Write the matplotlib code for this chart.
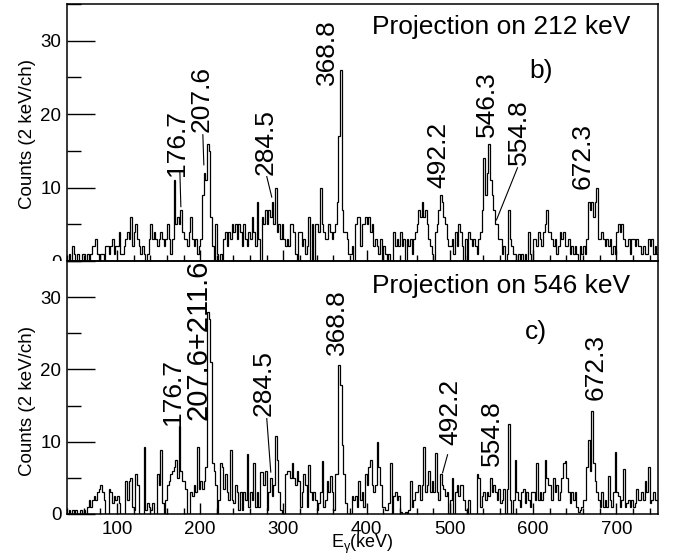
import numpy as np
import matplotlib
matplotlib.use("Agg")
import matplotlib.pyplot as plt
from matplotlib.patches import Rectangle
from matplotlib.ticker import MultipleLocator

plt.rcParams['font.family'] = ['Liberation Sans', 'DejaVu Sans']
plt.rcParams['mathtext.fontset'] = 'custom'
plt.rcParams['mathtext.rm'] = 'Liberation Sans'
plt.rcParams['mathtext.it'] = 'Liberation Sans'
plt.rcParams['mathtext.default'] = 'regular'

# ---------------- data ----------------
E_START = 40     # keV, first bin edge
BIN_W = 2        # keV per channel

counts_212 = (
    [0, 1, 0, 2, 1, 0, 1, 0, 0, 1] +          # 40
    [1, 0, 1, 0, 1, 2, 2, 3, 1, 0] +          # 60
    [1, 1, 0, 2, 2, 1, 2, 3, 1, 2] +          # 80
    [2, 4, 1, 1, 2, 3, 4, 3, 6, 2] +          # 100
    [4, 5, 3, 2, 1, 2, 1, 0, 1, 3] +          # 120
    [5, 3, 4, 3, 2, 3, 4, 3, 2, 3] +          # 140
    [5, 3, 1, 3, 11, 5, 6, 5, 7, 4] +         # 160
    [3, 3, 2, 4, 6, 3, 2, 3, 1, 2] +          # 180
    [3, 9, 12, 11, 16, 15, 6, 2, 0, 5] +      # 200
    [1, 0, 1, 0, 3, 4, 2, 4, 3, 5] +          # 220
    [4, 5, 3, 5, 4, 2, 5, 3, 2, 4] +          # 240
    [3, 6, 4, 2, 8, 3, 0, 6, 5, 7] +          # 260
    [5, 7, 6, 8, 5, 10, 4, 5, 3, 5] +         # 280
    [3, 2, 3, 2, 5, 5, 4, 1, 0, 4] +          # 300
    [4, 2, 3, 1, 2, 6, 0, 5, 0, 5] +          # 320
    [5, 4, 10, 5, 4, 3, 3, 5, 4, 3] +         # 340
    [4, 5, 8, 17, 26, 7, 4, 4, 3, 1] +        # 360
    [1, 2, 0, 5, 6, 6, 2, 5, 5, 6] +          # 380
    [5, 6, 4, 5, 2, 3, 2, 1, 3, 0] +          # 400
    [2, 1, 0, 1, 0, 0, 4, 2, 3, 2] +          # 420
    [4, 2, 3, 0, 3, 2, 3, 1, 3, 4] +          # 440
    [5, 7, 6, 8, 6, 7, 5, 3, 2, 1] +          # 460
    [0, 4, 5, 7, 9, 8, 6, 5, 3, 2] +          # 480
    [2, 3, 1, 4, 2, 5, 4, 2, 0, 3] +          # 500
    [0, 4, 3, 2, 3, 2, 1, 3, 4, 7] +          # 520
    [14, 9, 12, 16, 11, 9, 7, 5, 5, 3] +      # 540
    [3, 1, 2, 0, 1, 7, 3, 2, 1, 1] +          # 560
    [0, 1, 0, 1, 0, 1, 0, 4, 1, 0] +          # 580
    [3, 3, 2, 4, 3, 2, 4, 5, 7, 4] +          # 600
    [4, 3, 2, 3, 1, 2, 4, 3, 4, 2] +          # 620
    [2, 3, 1, 2, 1, 2, 1, 0, 2, 1] +          # 640
    [2, 1, 3, 8, 7, 8, 6, 8, 10, 3] +         # 660
    [3, 4, 3, 2, 3, 2, 3, 1, 2, 1] +          # 680
    [4, 5, 4, 5, 3, 2, 2, 3, 1, 3] +          # 700
    [3, 2, 3, 2, 2, 1, 2, 1, 1, 3] +          # 720
    [2, 3, 1, 2, 1]                           # 740
)

counts_546 = (
    [0, 0.5, 0, 0.5, 0, 0.5, 0, 0, 0.5, 0] +          # 40
    [0.5, 0, 1, 2, 1, 2, 2.5, 2, 3, 3.5] +            # 60
    [4, 3, 2, 0, 0, 3.5, 3, 1.5, 2.5, 2] +            # 80
    [2.5, 1.5, 0, 0, 0, 4.5, 2, 4.5, 5, 1] +          # 100
    [0.5, 5.5, 4, 0, 0, 0, 9.2, 0.5, 1.5, 1] +        # 120
    [0.5, 1.5, 0, 0, 5.5, 4, 8.8, 1.5, 0, 2] +        # 140
    [4, 4.5, 5.5, 6, 6.5, 7.5, 5, 12.2, 6, 4.5] +     # 160
    [4.5, 3.5, 0, 0, 3, 2.5, 4, 3, 9.3, 3.5] +        # 180
    [4.5, 3.5, 4.5, 6.5, 28, 27, 21, 7, 6, 4] +       # 200
    [0, 2, 7, 6.5, 3.5, 5.5, 3, 2, 8.8, 2] +          # 220
    [1.5, 4, 3, 0.5, 3, 0.5, 3, 2, 8.3, 1] +          # 240
    [3, 2, 7, 1, 3, 1, 5.8, 5.8, 4, 6] +              # 260
    [0.5, 3, 5, 2.5, 4, 10.8, 7.5, 3, 0.5, 0] +       # 280
    [0, 5.5, 6, 6, 5, 7, 5, 4, 6, 4.5] +              # 300
    [1, 3, 5.5, 4, 1, 6.8, 3, 2, 3, 2] +              # 320
    [0.5, 1.5, 3, 7.4, 1, 2, 4.5, 3, 5.2, 3] +        # 340
    [0.5, 5.5, 5.5, 20.6, 17.8, 9.5, 5.5, 1.5, 0, 0] +  # 360
    [0, 2.5, 2, 2.5, 1, 4.5, 2, 3, 1, 5.5] +          # 380
    [4, 6.5, 7.5, 4, 3, 4, 10, 6.5, 4, 1] +           # 400
    [1, 0.5, 0.5, 1.5, 7, 0, 2.5, 3, 2, 2.5] +        # 420
    [0.3, 0, 0, 0.3, 0, 0.5, 4.5, 1, 2, 3] +          # 440
    [3, 4, 2, 4, 9.2, 3, 4, 6, 3, 4.5] +              # 460
    [3, 8.5, 3, 2, 5.5, 4, 3.5, 2.5, 3, 0] +          # 480
    [2, 5, 0, 3, 4, 2.5, 4, 4, 2, 0.5] +              # 500
    [0, 2, 0, 0, 0, 0, 5.5, 5, 1, 2.5] +              # 520
    [3, 2, 3, 2.5, 5, 3, 4, 3, 2, 3.5] +              # 540
    [1.5, 2, 3.5, 0, 3.5, 12.5, 2, 0, 2, 7.5] +       # 560
    [3, 2, 1, 3, 3.5, 1.5, 3, 2, 1, 3] +              # 580
    [3, 2, 7, 2, 3, 2, 3, 7.5, 5, 4] +                # 600
    [4, 2, 5, 3, 4, 2, 3, 5, 7, 7.3] +                # 620
    [5, 3, 1.5, 3, 2, 3, 1, 0.3, 0.5, 1] +            # 640
    [2, 2, 6.5, 10.3, 6, 14.3, 7, 4.5, 3, 2] +        # 660
    [1, 3, 1, 2, 1, 5.2, 2, 1, 3, 8.6] +              # 680
    [3, 2.5, 1, 2, 6.2, 1, 1.5, 2, 1, 2] +            # 700
    [1, 1.5, 3.5, 2, 2, 3, 2, 4.5, 3, 6.5] +          # 720
    [1.5, 2, 3, 2, 2]                                 # 740
)

peak_labels_212 = ["176.7", "207.6", "284.5", "368.8", "492.2", "546.3", "554.8", "672.3"]
peak_labels_546 = ["176.7", "207.6+211.6", "284.5", "368.8", "492.2", "554.8", "672.3"]
x_tick_values = [100, 200, 300, 400, 500, 600, 700]
y_tick_values = [0, 10, 20, 30]

# ---------------- layout / style ----------------
# text anchor positions (keV, counts)
pos_212 = [(172, 16.1), (202, 22.1), (278.8, 16.2), (352, 28.5),
           (486.4, 14.5), (544, 21.4), (582.4, 17.6), (659.2, 14.3)]
leaders_212 = {0: ((175.6, 176.8), (12.1, 7.4)),
               1: ((203.2, 204.4), (17.2, 13.1)),
               2: ((280, 286), (11.5, 8.7)),
               6: ((581.2, 556), (12.7, 5.6))}
pos_546 = [(167.2, 16.9), (198.4, 13.0), (276.4, 18.1), (364, 26.5),
           (500.8, 14.1), (550, 11.2), (674.8, 20.4)]
leaders_546 = {2: ((280, 284.8), (13.2, 5.8)),
               4: ((497.2, 491.2), (8.2, 5.7))}

W, H = 678, 556
fig = plt.figure(figsize=(W / 100, H / 100), dpi=100)


def rect(l, t, r, b):
    return [l / W, 1 - b / H, (r - l) / W, (b - t) / H]


ax1 = fig.add_axes(rect(67, 4, 658, 261))
ax2 = fig.add_axes(rect(67, 261, 658, 514))
ax1.set_zorder(0)
ax2.set_zorder(2)
fig.add_artist(Rectangle((0, 0), 67 / W, 1 - 261 / H, transform=fig.transFigure,
                         facecolor='white', edgecolor='none', zorder=1))

edges = E_START + BIN_W * np.arange(len(counts_212) + 1)

for ax, counts in ((ax1, counts_212), (ax2, counts_546)):
    ax.stairs(counts, edges, color='black', linewidth=0.9, baseline=0)
    ax.set_xlim(40, 750)
    ax.set_ylim(0, 35)
    ax.set_xticks(x_tick_values)
    ax.xaxis.set_minor_locator(MultipleLocator(20))
    ax.set_yticks(y_tick_values)
    ax.yaxis.set_minor_locator(MultipleLocator(5))
    ax.tick_params(axis='y', which='major', direction='in', length=20, width=1,
                   labelsize=13.5, pad=4)
    ax.tick_params(axis='y', which='minor', direction='in', length=10, width=1)
    ax.tick_params(axis='x', which='major', direction='in', length=8, width=1,
                   labelsize=13.5, pad=5)
    ax.tick_params(axis='x', which='minor', direction='in', length=4, width=1)
    for s in ax.spines.values():
        s.set_linewidth(1.1)
    ax.set_facecolor('none')

ax1.tick_params(axis='x', labelbottom=False)

fs = 19
for i, (lab, (x, y)) in enumerate(zip(peak_labels_212, pos_212)):
    ax1.text(x, y, lab, rotation=90, ha='center', va='center', fontsize=fs)
for i, (xs, ys) in leaders_212.items():
    ax1.plot(xs, ys, color='black', linewidth=0.8)

for i, (lab, (x, y)) in enumerate(zip(peak_labels_546, pos_546)):
    if '+' in lab:
        ax2.text(x, y, lab, rotation=90, ha='center', va='bottom', fontsize=21,
                 clip_on=True)
    else:
        ax2.text(x, y, lab, rotation=90, ha='center', va='center', fontsize=fs)
for i, (xs, ys) in leaders_546.items():
    ax2.plot(xs, ys, color='black', linewidth=0.8)

ax1.text(407, 31.9, "Projection on 212 keV", ha='left', va='center', fontsize=fs)
ax1.text(610, 25.9, "b)", ha='center', va='center', fontsize=fs)
ax2.text(407, 31.6, "Projection on 546 keV", ha='left', va='center', fontsize=fs)
ax2.text(602.8, 25.2, "c)", ha='center', va='center', fontsize=fs)

fig.text(28 / W, 1 - 134 / H, "Counts (2 keV/ch)", rotation=90, ha='center',
         va='center', fontsize=13.5)
fig.text(28 / W, 1 - 401 / H, "Counts (2 keV/ch)", rotation=90, ha='center',
         va='center', fontsize=13.5, zorder=3)
fig.text(362 / W, 1 - 544 / H, r"E$_{\gamma}$(keV)", ha='center', va='center',
         fontsize=13, zorder=3)

fig.savefig("out.png", dpi=100)
